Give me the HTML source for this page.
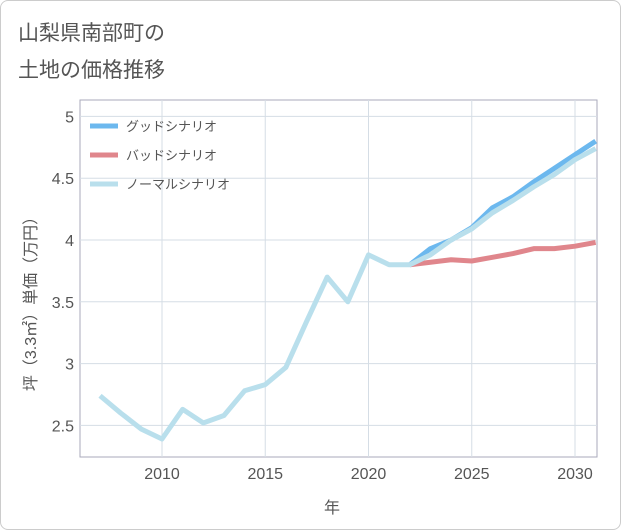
<!DOCTYPE html>
<html><head><meta charset="utf-8"><style>
body{margin:0;background:#fff;font-family:"Liberation Sans","Noto Sans CJK JP",sans-serif;}
#card{position:absolute;left:0;top:0;width:619px;height:528px;border:1px solid #ccc;border-radius:8px;background:#fff;}
</style></head><body>
<div id="card">
<svg id="chart" width="621" height="530" style="position:absolute;left:-1px;top:-1px">
<text x="18" y="40" font-size="21" fill="#555">山梨県南部町の</text>
<text x="18" y="77" font-size="21" fill="#555">土地の価格推移</text>
<rect x="80" y="100" width="517" height="357" fill="none" stroke="#aab"/>
<g id="grid"></g><g id="series"></g><g id="legend"></g>
<text x="332" y="513" font-size="16" fill="#555" text-anchor="middle">年</text>
<text transform="translate(36,300) rotate(-90)" font-size="16" fill="#555" text-anchor="middle">坪（3.3㎡）単価（万円）</text>
</svg></div>
<script>
const years=[2007,2008,2009,2010,2011,2012,2013,2014,2015,2016,2017,2018,2019,2020,2021,2022,2023,2024,2025,2026,2027,2028,2029,2030,2031];
const normal=[2.74,2.60,2.47,2.39,2.63,2.52,2.58,2.78,2.83,2.97,3.34,3.70,3.50,3.88,3.80,3.80,3.88,4.00,4.09,4.22,4.32,4.43,4.53,4.65,4.74];
const futureYears=[2022,2023,2024,2025,2026,2027,2028,2029,2030,2031];
const good=[3.80,3.93,4.00,4.10,4.26,4.35,4.47,4.58,4.69,4.80];
const bad=[3.80,3.82,3.84,3.83,3.86,3.89,3.93,3.93,3.95,3.98];
const xTicks=[2010,2015,2020,2025,2030];
const yTicks=[2.5,3,3.5,4,4.5,5];
const NS='http://www.w3.org/2000/svg';
const x=v=>162+(v-2010)*20.65;
const y=v=>240-(v-4)*123.6;
function mk(tag,attrs,parent,text){const e=document.createElementNS(NS,tag);for(const k in attrs)e.setAttribute(k,attrs[k]);if(text!==undefined)e.textContent=text;parent.appendChild(e);return e;}
const grid=document.getElementById('grid'),ser=document.getElementById('series'),leg=document.getElementById('legend');
xTicks.forEach(t=>{const l=mk('line',{x1:x(t),x2:x(t),y1:100,y2:457,stroke:'#d5dde5'},grid);

const tx=mk('text',{x:x(t),y:479,'font-size':16,fill:'#555','text-anchor':'middle'},grid,t);
});
yTicks.forEach(t=>{const l=mk('line',{x1:80,x2:597,y1:y(t),y2:y(t),stroke:'#d5dde5'},grid);

const tx=mk('text',{x:74,y:y(t)+6,'font-size':16,fill:'#555','text-anchor':'end'},grid,t);
});
function line(xs,vs,color,name){const d=xs.map((v,i)=>(i?'L':'M')+x(v)+','+y(vs[i])).join('');
const p=mk('path',{d:d,fill:'none',stroke:color,'stroke-width':5,'stroke-linejoin':'round'},ser);
}
line(futureYears,good,'#6cb8ee','good-scenario-line');
line(futureYears,bad,'#e0868c','bad-scenario-line');
line(years,normal,'#b9dfec','normal-scenario-line');
[['グッドシナリオ','#6cb8ee'],['バッドシナリオ','#e0868c'],['ノーマルシナリオ','#b9dfec']].forEach((e,i)=>{
const yy=126+i*29;const l=mk('line',{x1:90,x2:118,y1:yy,y2:yy,stroke:e[1],'stroke-width':5},leg);

const t=mk('text',{x:126,y:yy+5,'font-size':13,fill:'#555'},leg,e[0]);
});
</script></body></html>
